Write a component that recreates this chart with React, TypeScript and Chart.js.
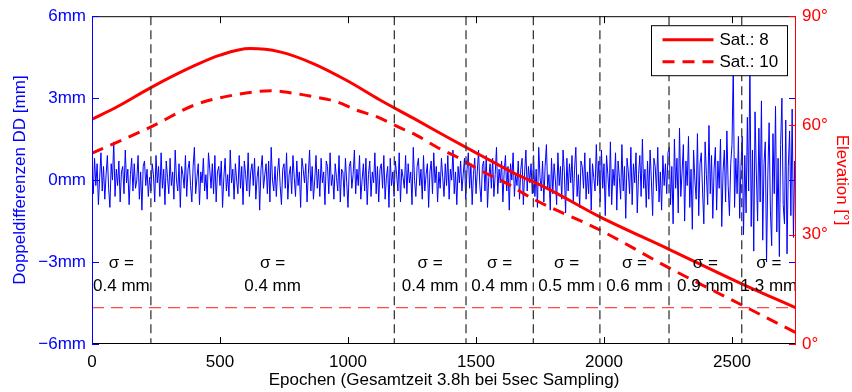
import React, { useEffect, useRef } from 'react';
import { Chart, registerables } from 'chart.js';

Chart.register(...registerables);

// ---------- data ----------
const X_MIN = 0;
const X_MAX = 2750;
const xTicks = [0, 500, 1000, 1500, 2000, 2500];
const leftTicks = [-6, -3, 0, 3, 6];
const rightTicks = [0, 30, 60, 90];

// segment boundaries (epochs) and noise sigma per segment
const boundaries = [230, 1181, 1461, 1724, 1984, 2254, 2538];
const sigmaLabels = ['0.4', '0.4', '0.4', '0.4', '0.5', '0.6', '0.9', '1.3'];

// elevation of satellites (degrees)
const sat8Epochs = [0, 100, 230, 400, 500, 617, 734, 864, 994, 1125, 1255, 1385, 1516, 1646, 1776, 1984, 2254, 2538, 2750];
const sat8Elev = [61.7, 65.2, 70.4, 76.4, 79.3, 81.1, 80.2, 77, 72.4, 67, 62, 56.9, 51.9, 47, 42.8, 34.9, 26, 16.5, 9.9];
const sat10Epochs = [0, 230, 400, 550, 700, 773, 865, 956, 1034, 1112, 1190, 1268, 1346, 1424, 1516, 1620, 1724, 1984, 2254, 2538, 2750];
const sat10Elev = [52.4, 59.6, 65.6, 68.3, 69.5, 69, 67.9, 66.5, 64.2, 62.4, 59.8, 57.3, 54.1, 51.4, 47.7, 44.1, 39.8, 31.3, 20.9, 10.7, 3.1];

// elevation cut-off (degrees)
const CUTOFF = 10;

// double differences (mm), one sample every NOISE_STEP epochs
const NOISE_STEP = 5;
const noise = [
  // 0 - 230
  0.3, -0.5, 0.8, -0.2, 0.6, -0.9, 0.1, 1.0, -0.4, 0.5,
  -0.7, 0.2, 0.9, -0.3, -1.0, 0.6, 0.0, 1.4, -0.6, 0.4,
  -0.2, 0.7, -0.8, 0.3, 0.5, -0.5, 1.1, -0.1, 0.4, -0.9,
  0.2, 0.8, -0.4, 0.6, -0.3, 0.0, 0.9, -0.7, 0.3, -1.1,
  0.5, 0.7, -0.2, 0.4, -0.6, 0.1,
  // 230 - 1181
  -0.4, 0.6, 0.2, -0.8, 0.9, -0.1, 0.5, -0.6, 1.0, -0.3,
  0.4, -0.9, 0.7, 0.1, -0.5, 0.8, -0.2, 0.3, -0.7, 1.1,
  0.0, -0.4, 0.6, -1.0, 0.5, 0.2, -0.3, 0.9, -0.6, 0.4,
  0.7, -0.2, -0.8, 0.5, 1.2, -0.5, 0.1, 0.6, -0.9, 0.3,
  -0.1, 0.8, -0.4, 0.2, -0.7, 1.0, 0.4, -0.3, 0.6, -0.5,
  0.9, -0.8, 0.3, 0.5, -0.2, 0.7, -1.0, 0.1, 0.8, -0.4,
  0.2, -0.6, 1.1, -0.1, 0.4, -0.7, 0.6, 0.0, -0.5, 0.9,
  -0.3, 0.5, -0.9, 0.7, 0.2, -0.4, 1.0, -0.6, 0.3, 0.6,
  -0.2, 0.8, -0.7, 0.1, 0.5, -1.1, 0.4, 0.9, -0.3, 0.2,
  0.6, -0.5, 0.7, -0.8, 1.2, 0.0, -0.4, 0.5, -0.6, 0.3,
  0.8, -0.2, -0.9, 0.4, 0.6, -0.3, 1.0, -0.7, 0.2, 0.5,
  -0.5, 0.9, 0.1, -0.6, 0.7, -0.2, 0.3, -1.0, 0.8, 0.4,
  -0.1, 0.6, -0.8, 0.2, 1.1, -0.4, 0.5, -0.7, 0.0, 0.9,
  -0.3, 0.4, -0.6, 0.8, -0.1, 0.3, -0.9, 0.7, 0.5, -0.5,
  1.0, -0.2, 0.2, -0.7, 0.6, 0.1, -0.4, 0.9, -0.8, 0.4,
  0.3, -0.6, 0.8, -0.1, -1.0, 0.5, 0.7, -0.3, 0.2, 1.1,
  -0.5, 0.4, -0.2, 0.9, -0.7, 0.0, 0.6, -0.4, 0.8, -0.9,
  0.2, 0.7, -0.6, 0.3, -0.1, 1.0, -0.5, 0.5, -0.8, 0.4,
  0.6, -0.3, 0.9, -0.7, 0.1, 0.5, -1.0, 0.8, -0.2, 0.3,
  // 1181 - 1461
  -0.6, 0.7, 0.2, -0.4, 1.0, -0.8, 0.4, 0.1, -0.3, 0.9,
  -0.5, 0.6, -0.1, 0.3, -0.9, 1.2, 0.0, -0.6, 0.5, 0.8,
  -0.2, 0.4, -0.7, 0.9, -0.4, 0.2, 0.6, -1.0, 0.3, 0.7,
  -0.5, 1.0, -0.1, 0.5, -0.8, 0.3, -0.3, 0.8, 0.1, -0.6,
  0.6, -0.2, 0.9, -0.7, 0.4, 0.0, 1.1, -0.5, 0.3, -0.9,
  0.5, -0.1, 0.7, -0.4, 0.2, 0.8,
  // 1461 - 1724
  -0.7, 0.4, 1.0, -0.3, 0.6, -0.9, 0.2, 0.8, -0.5, 0.3,
  1.1, -0.2, -0.8, 0.5, 0.7, -0.4, 0.9, -1.0, 0.1, 0.6,
  -0.3, 0.8, -0.6, 0.2, 1.2, -0.5, 0.4, -0.1, 0.7, -0.8,
  0.3, 0.9, -0.4, 0.5, -1.1, 0.6, 0.0, 1.0, -0.6, 0.2,
  -0.2, 0.7, -0.7, 0.4, 0.8, -0.9, 0.3, 1.1, -0.4, 0.5,
  -0.1, 0.6, -0.5,
  // 1724 - 1984
  0.9, -0.6, 0.4, -1.0, 1.2, 0.1, -0.4, 0.7, -0.8, 0.5,
  1.3, -0.3, 0.2, -1.1, 0.8, -0.5, 0.6, 0.0, -0.9, 1.0,
  -0.2, 0.5, -0.7, 1.1, 0.3, -1.2, 0.8, -0.4, 0.6, -0.1,
  0.9, -0.8, 0.4, 1.2, -0.6, 0.2, -1.0, 0.7, 0.5, -0.3,
  1.0, -0.7, 0.3, -0.5, 0.8, -1.1, 0.6, 0.1, -0.4, 1.3,
  -0.2, 0.7,
  // 1984 - 2254
  -0.8, 1.1, -0.3, 0.6, -1.3, 0.9, 0.2, -0.6, 1.4, -0.9,
  0.4, -0.2, 1.0, -1.1, 0.7, 0.1, -0.7, 1.3, -0.4, 0.5,
  -1.4, 0.8, 0.3, -0.5, 1.2, -0.9, 0.6, -0.1, 1.0, -1.2,
  0.2, 0.9, -0.6, 1.5, -0.3, 0.4, -1.0, 0.7, -0.7, 1.1,
  0.0, -1.3, 0.8, 0.5, -0.4, 1.2, -0.8, 0.3, -1.1, 0.9,
  -0.2, 0.6, -0.5, 1.0,
  // 2254 - 2538
  1.2, -0.9, 0.5, -1.6, 1.5, -0.3, 0.8, -1.2, 1.9, -0.6,
  0.3, 1.3, -1.5, 0.7, -0.2, 1.6, -1.0, 0.4, -1.8, 1.1,
  0.0, -0.7, 1.7, -1.3, 0.6, 1.0, -0.4, -1.6, 1.4, 0.2,
  -0.9, 2.0, -0.5, 0.9, -1.4, 0.4, 1.2, -1.1, 0.7, -0.3,
  1.5, -1.7, 0.3, 1.1, -0.8, 1.8, -0.2, -1.3, 0.6, 1.3,
  4.2, -1.0, 0.8, -0.5, 1.6, -1.4, 0.5,
  // 2538 - 2750
  1.6, -2.0, 0.9, -1.2, 2.3, -0.4, 4.3, -1.7, 1.1, -2.6,
  2.5, 0.3, -1.5, 1.9, -0.8, 2.9, -2.2, 0.6, 1.4, -3.0,
  0.2, 2.1, -1.1, -2.4, 1.7, -0.5, 2.7, -1.9, 0.8, -2.8,
  1.3, 3.0, -0.9, -1.6, 2.2, -2.7, 0.5, 1.8, -1.3, 2.6,
  -2.1, 0.7, -0.6,
];

// ---------- styling ----------
const FONT = '"Liberation Sans", Arial, Helvetica, sans-serif';
const FS = 17;
const BLUE = '#0000ff';
const RED = '#ff0000';
const SIGMA_ROW1 = -3.04; // mm (left axis) for "σ ="
const SIGMA_ROW2 = -3.89; // mm for value line
const TICK_LEN = 7;

const framePlugin = {
  id: 'matlabFrame',
  afterDatasetsDraw(chart: any) {
    const { ctx, chartArea: a, scales } = chart;
    const x = scales.x, y = scales.y, y2 = scales.y2;
    ctx.save();

    // segment boundaries
    ctx.strokeStyle = '#3a3a3a';
    ctx.lineWidth = 1.3;
    ctx.setLineDash([9, 5]);
    boundaries.forEach((b) => {
      const px = x.getPixelForValue(b);
      ctx.beginPath();
      ctx.moveTo(px, a.top);
      ctx.lineTo(px, a.bottom);
      ctx.stroke();
    });
    ctx.setLineDash([]);

    // sigma labels
    ctx.fillStyle = '#000';
    ctx.font = `${FS}px ${FONT}`;
    ctx.textAlign = 'center';
    ctx.textBaseline = 'middle';
    const edges = [X_MIN, ...boundaries, X_MAX];
    sigmaLabels.forEach((s, i) => {
      const cx = x.getPixelForValue((edges[i] + edges[i + 1]) / 2);
      ctx.fillText('σ =', cx, y.getPixelForValue(SIGMA_ROW1));
      ctx.fillText(`${s} mm`, cx, y.getPixelForValue(SIGMA_ROW2));
    });

    // frame
    ctx.lineWidth = 1;
    ctx.strokeStyle = '#000';
    ctx.beginPath();
    ctx.moveTo(a.left, a.top + 0.5);
    ctx.lineTo(a.right, a.top + 0.5);
    ctx.moveTo(a.left, a.bottom - 0.5);
    ctx.lineTo(a.right, a.bottom - 0.5);
    ctx.stroke();
    // x ticks (bottom & top, inward)
    xTicks.forEach((v) => {
      const px = Math.round(x.getPixelForValue(v)) + 0.5;
      ctx.beginPath();
      ctx.moveTo(px, a.bottom);
      ctx.lineTo(px, a.bottom - TICK_LEN);
      ctx.moveTo(px, a.top);
      ctx.lineTo(px, a.top + TICK_LEN);
      ctx.stroke();
    });
    // left axis (blue) with mirrored ticks on the right
    ctx.strokeStyle = BLUE;
    ctx.beginPath();
    ctx.moveTo(a.left + 0.5, a.top);
    ctx.lineTo(a.left + 0.5, a.bottom);
    leftTicks.forEach((v) => {
      const py = Math.round(y.getPixelForValue(v)) + 0.5;
      ctx.moveTo(a.left, py);
      ctx.lineTo(a.left + TICK_LEN, py);
      ctx.moveTo(a.right, py);
      ctx.lineTo(a.right - TICK_LEN, py);
    });
    ctx.stroke();
    // right axis (red)
    ctx.strokeStyle = RED;
    ctx.beginPath();
    ctx.moveTo(a.right - 0.5, a.top);
    ctx.lineTo(a.right - 0.5, a.bottom);
    rightTicks.forEach((v) => {
      const py = Math.round(y2.getPixelForValue(v)) + 0.5;
      ctx.moveTo(a.right, py);
      ctx.lineTo(a.right - TICK_LEN, py);
    });
    ctx.stroke();
    ctx.restore();
  },
  afterDraw(chart: any) {
    const { ctx, chartArea: a } = chart;
    ctx.save();
    const bx = a.right - 144.5;
    const by = a.top + 9.5;
    const bw = 136;
    const bh = 50;
    ctx.fillStyle = '#fff';
    ctx.fillRect(bx, by, bw, bh);
    ctx.strokeStyle = '#000';
    ctx.lineWidth = 1;
    ctx.strokeRect(bx, by, bw, bh);
    const rows = chart.data.datasets.slice(0, 2);
    rows.forEach((ds: any, i: number) => {
      const cy = by + 14 + i * 22;
      ctx.strokeStyle = ds.borderColor;
      ctx.lineWidth = ds.borderWidth;
      ctx.setLineDash(ds.borderDash || []);
      ctx.beginPath();
      ctx.moveTo(bx + 11, cy);
      ctx.lineTo(bx + 62, cy);
      ctx.stroke();
      ctx.setLineDash([]);
      ctx.fillStyle = '#000';
      ctx.font = `${FS}px ${FONT}`;
      ctx.textAlign = 'left';
      ctx.textBaseline = 'middle';
      ctx.fillText(ds.label, bx + 68, cy + 1);
    });
    ctx.restore();
  },
};

export default function App() {
  const ref = useRef<HTMLCanvasElement>(null);
  useEffect(() => {
    const canvas = ref.current;
    if (!canvas) return;
    const noisePts = noise.map((v, i) => ({ x: i * NOISE_STEP, y: v }));
    const chart = new Chart(canvas, {
      type: 'line',
      data: {
        datasets: [
          {
            label: 'Sat.: 8',
            data: sat8Epochs.map((e, i) => ({ x: e, y: sat8Elev[i] })),
            yAxisID: 'y2',
            borderColor: RED,
            borderWidth: 3,
            pointRadius: 0,
            cubicInterpolationMode: 'monotone',
            fill: false,
          },
          {
            label: 'Sat.: 10',
            data: sat10Epochs.map((e, i) => ({ x: e, y: sat10Elev[i] })),
            yAxisID: 'y2',
            borderColor: RED,
            borderWidth: 3,
            borderDash: [12, 8],
            pointRadius: 0,
            cubicInterpolationMode: 'monotone',
            fill: false,
          },
          {
            label: 'Cut-off',
            data: [
              { x: X_MIN, y: CUTOFF },
              { x: X_MAX, y: CUTOFF },
            ],
            yAxisID: 'y2',
            borderColor: '#ff4a4a',
            borderWidth: 1.2,
            borderDash: [12, 7],
            pointRadius: 0,
            fill: false,
          },
          {
            label: 'DD',
            data: noisePts,
            yAxisID: 'y',
            borderColor: BLUE,
            borderWidth: 1,
            pointRadius: 0,
            tension: 0,
            fill: false,
          },
        ],
      },
      options: {
        animation: false,
        responsive: false,
        devicePixelRatio: 1,
        events: [],
        layout: { padding: { top: 16, left: 0, right: 0, bottom: 0 } },
        plugins: { legend: { display: false }, tooltip: { enabled: false } },
        scales: {
          x: {
            type: 'linear',
            position: 'bottom',
            min: X_MIN,
            max: X_MAX,
            afterBuildTicks: (s: any) => {
              s.ticks = xTicks.map((v) => ({ value: v }));
            },
            afterFit: (s: any) => {
              s.height = 48;
            },
            ticks: {
              stepSize: 500,
              color: '#000',
              font: { family: FONT, size: FS },
              padding: 8,
              maxRotation: 0,
              autoSkip: false,
              callback: (v: any) => String(v),
            },
            grid: { display: false, drawTicks: false },
            border: { display: false },
            title: {
              display: true,
              text: 'Epochen (Gesamtzeit 3.8h bei 5sec Sampling)',
              color: '#000',
              font: { family: FONT, size: FS },
              padding: { top: 0, bottom: 1 },
            },
          },
          y: {
            type: 'linear',
            position: 'left',
            min: -6,
            max: 6,
            afterFit: (s: any) => {
              s.width = 92;
            },
            ticks: {
              stepSize: 3,
              color: BLUE,
              font: { family: FONT, size: FS },
              padding: 6,
              callback: (v: any) => (v < 0 ? '\u2212' : '') + Math.abs(v) + 'mm',
            },
            grid: { display: false, drawTicks: false },
            border: { display: false },
            title: {
              display: true,
              text: 'Doppeldifferenzen DD [mm]',
              color: BLUE,
              font: { family: FONT, size: FS },
              padding: { top: 10, bottom: 0 },
            },
          },
          y2: {
            type: 'linear',
            position: 'right',
            min: 0,
            max: 90,
            afterFit: (s: any) => {
              s.width = 56;
            },
            ticks: {
              stepSize: 30,
              color: RED,
              font: { family: FONT, size: FS },
              padding: 6,
              callback: (v: any) => v + '°',
            },
            grid: { display: false, drawTicks: false },
            border: { display: false },
            title: {
              display: true,
              text: 'Elevation [°]',
              color: RED,
              font: { family: FONT, size: FS },
              padding: { top: 0, bottom: 0 },
            },
          },
        },
      },
      plugins: [framePlugin],
    } as any);
    return () => chart.destroy();
  }, []);
  return (
    <div style={{ position: 'absolute', left: 0, top: 0, width: 852, height: 392, background: '#fff' }}>
      <canvas ref={ref} width={852} height={392} style={{ display: 'block' }} />
    </div>
  );
}
